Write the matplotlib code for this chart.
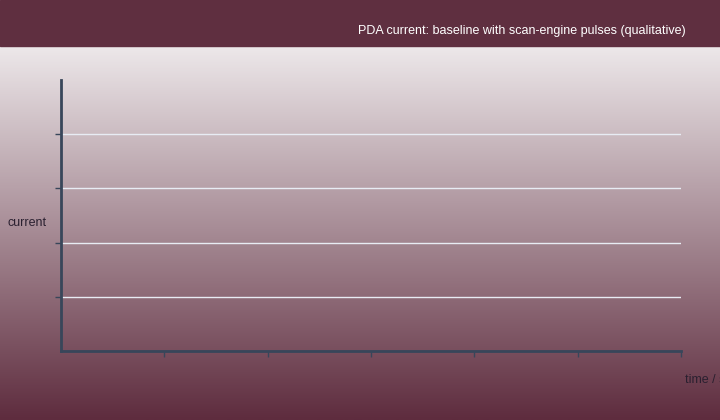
import matplotlib.pyplot as plt
import numpy as np
from matplotlib.patches import Rectangle

# Chart content (qualitative sketch, no trace drawn in the reference)
time_s = []
current = []
x_ticks = [1, 2, 3, 4, 5, 6]
y_ticks = [1, 2, 3, 4]
title = "PDA current: baseline with scan-engine pulses (qualitative)"

plt.rcParams['font.family'] = ['Liberation Sans', 'DejaVu Sans']

fig = plt.figure(figsize=(7.2, 4.2), dpi=100)

# gradient background below the header band
bg = fig.add_axes([0, 0, 1, 1], zorder=0)
top_c = np.array([0xed, 0xe8, 0xea]) / 255
bot_c = np.array([0x5e, 0x2c, 0x3e]) / 255
t = np.linspace(0, 1, 256)[:, None]
grad = (top_c * (1 - t) + bot_c * t)[:, None, :]
bg.imshow(grad, aspect='auto', extent=[0, 1, 0, 374 / 420])
bg.set_xlim(0, 1)
bg.set_ylim(0, 1)
bg.add_patch(Rectangle((0, 374 / 420), 1, 46 / 420, color='#5f2f40'))
bg.axis('off')

fig.text(686 / 720, 1 - 31 / 420, title, color='white', fontsize=9,
         ha='right', va='center')

ax = fig.add_axes([61 / 720, 69 / 420, 620 / 720, 271 / 420], zorder=1)
ax.patch.set_alpha(0)
ax.plot(time_s, current, color='#e8eaf0')
ax.set_xlim(0, 6)
ax.set_ylim(0, 5)
ax.set_xticks(x_ticks)
ax.set_yticks(y_ticks)
ax.set_xticklabels([])
ax.set_yticklabels([])
ax.grid(axis='y', color='#e8ecf4', linewidth=1)
ax.set_axisbelow(True)
for s in ['top', 'right']:
    ax.spines[s].set_visible(False)
for s in ['left', 'bottom']:
    ax.spines[s].set_color('#38465a')
    ax.spines[s].set_linewidth(2)
ax.tick_params(axis='both', color='#38465a', length=4, width=1)

fig.text(8 / 720, 1 - 223 / 420, "current", color='#2a2030', fontsize=9,
         ha='left', va='center')
# the axis label runs past the right edge, as in the reference
fig.text(685 / 720, 1 - 380 / 420, "time / s", color='#2a2030', fontsize=9,
         ha='left', va='center')

fig.savefig('out.png', dpi=100)
